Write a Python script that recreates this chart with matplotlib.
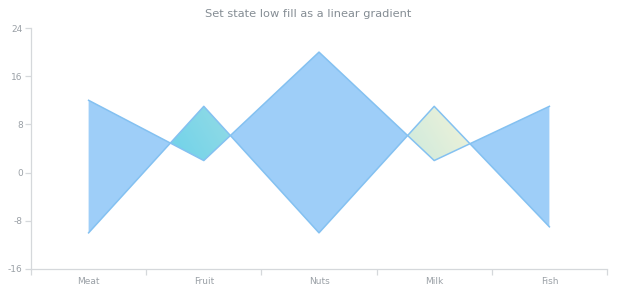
import numpy as np
import matplotlib
matplotlib.use("Agg")
from matplotlib import pyplot as plt
from matplotlib.path import Path
from matplotlib.patches import PathPatch
from matplotlib.colors import LinearSegmentedColormap

categories = ["Meat", "Fruit", "Nuts", "Milk", "Fish"]
high = [12, 2, 20, 2, 11]
low = [-10, 11, -10, 11, -9]
y_ticks = [-16, -8, 0, 8, 16, 24]

BLUE_FILL = "#9ecef8"
BLUE_EDGE = "#84c1f1"
GRID_COLOR = "#d5d8db"
TEXT_COLOR = "#9aa0a6"

fig = plt.figure(figsize=(6.2, 3.0), dpi=100)
ax = fig.add_axes([31 / 620, 31 / 300, 576 / 620, 241 / 300])

x = np.arange(len(categories))
hi = np.array(high, dtype=float)
lo = np.array(low, dtype=float)

# normal state: high above low
ax.fill_between(x, lo, hi, where=hi >= lo, interpolate=True,
                facecolor=BLUE_FILL, edgecolor="none", zorder=2)

# low state: high under low -> gradient fill clipped to the polygons
low_coll = ax.fill_between(x, lo, hi, where=hi < lo, interpolate=True,
                           facecolor="none", edgecolor="none", zorder=2)
low_path = Path.make_compound_path(*low_coll.get_paths())
verts = low_path.vertices
x0, x1 = verts[:, 0].min(), verts[:, 0].max()
y0, y1 = verts[:, 1].min(), verts[:, 1].max()

u, v = np.meshgrid(np.linspace(0, 1, 300), np.linspace(0, 1, 100))
grad = 0.9 * u + 0.1 * v
cmap = LinearSegmentedColormap.from_list("lowfill", ["#6fd2ea", "#f2f3d8"])
img = ax.imshow(grad, cmap=cmap, extent=(x0, x1, y0, y1), origin="lower",
                aspect="auto", interpolation="bilinear", zorder=2)
clip = PathPatch(low_path, transform=ax.transData, facecolor="none", edgecolor="none")
ax.add_patch(clip)
img.set_clip_path(clip)

ax.plot(x, hi, color=BLUE_EDGE, lw=1.1, zorder=3)
ax.plot(x, lo, color=BLUE_EDGE, lw=1.1, zorder=3)

ax.set_xlim(-0.5, len(categories) - 0.5)
ax.set_ylim(-16, 24)
ax.set_yticks(y_ticks)
ax.set_yticklabels([str(t) for t in y_ticks])
ax.set_xticks(x)
ax.set_xticklabels(categories)
ax.set_xticks(np.arange(-0.5, len(categories), 1.0), minor=True)

for side in ["top", "right"]:
    ax.spines[side].set_visible(False)
for side in ["left", "bottom"]:
    ax.spines[side].set_color(GRID_COLOR)
    ax.spines[side].set_linewidth(0.9)

ax.tick_params(axis="x", which="major", length=0, pad=6, labelsize=6.5, labelcolor=TEXT_COLOR)
ax.tick_params(axis="x", which="minor", length=4, color=GRID_COLOR, width=0.9)
ax.tick_params(axis="y", length=4, color=GRID_COLOR, width=0.9, pad=2,
               labelsize=6.5, labelcolor=TEXT_COLOR)

fig.text(308 / 620, 1 - 14 / 300, "Set state low fill as a linear gradient",
         ha="center", va="center", fontsize=8.2, color="#858d94")

fig.savefig("out.png", dpi=100)
